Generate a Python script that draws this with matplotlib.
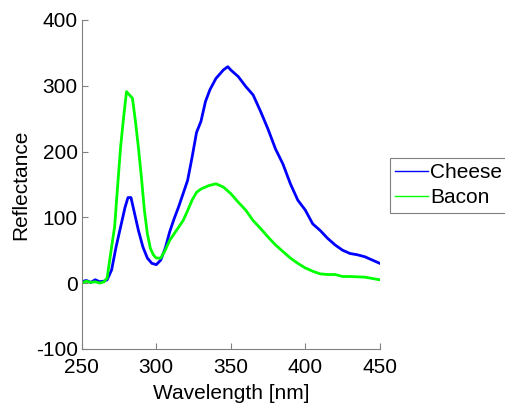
import matplotlib
matplotlib.use('Agg')
import matplotlib.pyplot as plt

plt.rcParams['font.family'] = ['Liberation Sans', 'DejaVu Sans']
plt.rcParams['axes.unicode_minus'] = False

# wavelength [nm] and reflectance
cheese_x = [250, 253, 256, 259, 262, 265, 267, 270, 273, 276, 279, 281, 283, 285, 288,
            291, 294, 297, 300, 303, 306, 309, 312, 315, 318, 321, 324, 327, 330, 333,
            336, 340, 345, 348, 350, 355, 360, 365, 370, 375, 380, 385, 390, 395, 400,
            405, 410, 415, 420, 425, 430, 435, 440, 445, 450]
cheese_y = [2, 4, 1, 5, 2, 3, 5, 20, 55, 85, 115, 130, 130, 110, 80,
            55, 38, 30, 28, 35, 53, 78, 98, 116, 136, 156, 191, 229, 246, 276,
            294, 311, 324, 329, 324, 314, 299, 286, 261, 234, 204, 181, 151, 126, 111,
            90, 80, 68, 58, 50, 45, 43, 40, 35, 30]

bacon_x = [250, 253, 256, 259, 262, 265, 267, 270, 272, 274, 276, 278, 280, 282, 284,
           286, 288, 290, 292, 294, 296, 298, 300, 303, 306, 309, 312, 315, 318, 321,
           324, 327, 330, 335, 340, 345, 350, 355, 360, 365, 370, 375, 380, 385, 390,
           395, 400, 405, 410, 415, 420, 425, 430, 440, 450]
bacon_y = [0, 3, 1, 2, 0, 2, 8, 55, 85, 146, 206, 251, 291, 286, 281,
           246, 206, 161, 111, 75, 53, 43, 38, 38, 50, 65, 75, 85, 95, 110,
           126, 138, 143, 148, 151, 146, 136, 123, 111, 95, 83, 70, 58, 48, 38,
           30, 23, 18, 14, 13, 13, 10, 10, 9, 5]

fig = plt.figure(figsize=(5.05, 4.08), dpi=100)
ax = fig.add_axes([0.162, 0.145, 0.590, 0.806])

ax.plot(cheese_x, cheese_y, color='#0000ff', lw=2.0, label='Cheese')
ax.plot(bacon_x, bacon_y, color='#00ff00', lw=2.0, label='Bacon')

ax.set_xlim(250, 450)
ax.set_ylim(-100, 400)
ax.set_xticks([250, 300, 350, 400, 450])
ax.set_yticks([-100, 0, 100, 200, 300, 400])
ax.set_xlabel('Wavelength [nm]', fontsize=15, labelpad=5)
ax.set_ylabel('Reflectance', fontsize=15, labelpad=4)

for s in ['top', 'right']:
    ax.spines[s].set_visible(False)
for s in ['left', 'bottom']:
    ax.spines[s].set_color('#808080')
ax.tick_params(direction='in', length=4, color='#808080', labelsize=15)
ax.tick_params(axis='x', pad=6.5)
ax.tick_params(axis='y', pad=3)

leg = ax.legend(loc='center left', bbox_to_anchor=(390 / 505, 0.546),
                bbox_transform=fig.transFigure, fontsize=15,
                fancybox=False, framealpha=1, edgecolor='#808080',
                handlelength=1.55, handletextpad=0.12, borderpad=0.26, labelspacing=0.3,
                borderaxespad=0)
leg.get_frame().set_linewidth(0.8)
for line in leg.get_lines():
    line.set_linewidth(1.0)

fig.savefig('out.png', dpi=100)
